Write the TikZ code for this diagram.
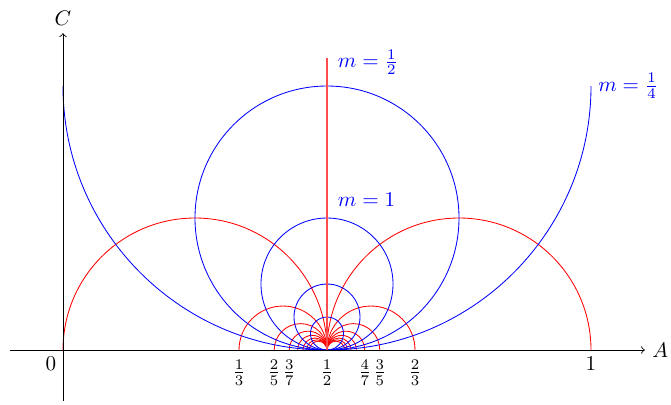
\documentclass[tikz,border=0pt]{standalone}
\begin{document}
\begin{tikzpicture}[x=8.8cm,y=8.8cm,
  mlbl/.style={blue, anchor=west, inner sep=2pt},
  tick/.style={anchor=north, inner sep=2pt}]
\useasboundingbox (-0.1193,-0.1023) rectangle (1.1515,0.6629);
% red semicircles through (1/2,0)
\foreach \k in {0,...,7}{
  \pgfmathsetmacro\r{1/(4*(2*\k+1))}
  \draw[red] (0.5,0) arc (0:180:\r);
  \draw[red] (0.5,0) arc (180:0:\r);
}
% blue circles tangent at (1/2,0)
\foreach \r in {0.25,0.125,0.0625,0.03125}{
  \draw[blue] (0.5,\r) circle (\r);
}
\draw[blue] (0,0.5) arc (180:360:0.5);
\coordinate (mid) at (0.5,0);
\coordinate (mtop) at (0.5,0.553);
\draw[red!70!white, line width=0.5pt] (mid) -- (mtop);
% axes
\coordinate (xs) at (-0.1,0);
\coordinate (xe) at (1.102,0);
\coordinate (ys) at (0,-0.097);
\coordinate (ye) at (0,0.6);
\draw[->] (xs) -- (xe) node[right] {$A$};
\draw[->] (ys) -- (ye) node[above] {$C$};
% labels
\node[mlbl] at (0.512,0.545) {$m=\frac{1}{2}$};
\node[mlbl] at (0.512,0.284) {$m=1$};
\node[mlbl] at (1.005,0.5) {$m=\frac{1}{4}$};
\node[anchor=north east, inner sep=3pt] at (0,0) {$0$};
\node[tick] at (1/3,-0.01) {$\frac{1}{3}$};
\node[tick] at (0.4,-0.01) {$\frac{2}{5}$};
\node[tick] at (3/7,-0.01) {$\frac{3}{7}$};
\node[tick] at (0.5,-0.01) {$\frac{1}{2}$};
\node[tick] at (4/7,-0.01) {$\frac{4}{7}$};
\node[tick] at (0.6,-0.01) {$\frac{3}{5}$};
\node[tick] at (2/3,-0.01) {$\frac{2}{3}$};
\node[anchor=north, inner sep=3pt] at (1,0) {$1$};
\end{tikzpicture}
\end{document}
